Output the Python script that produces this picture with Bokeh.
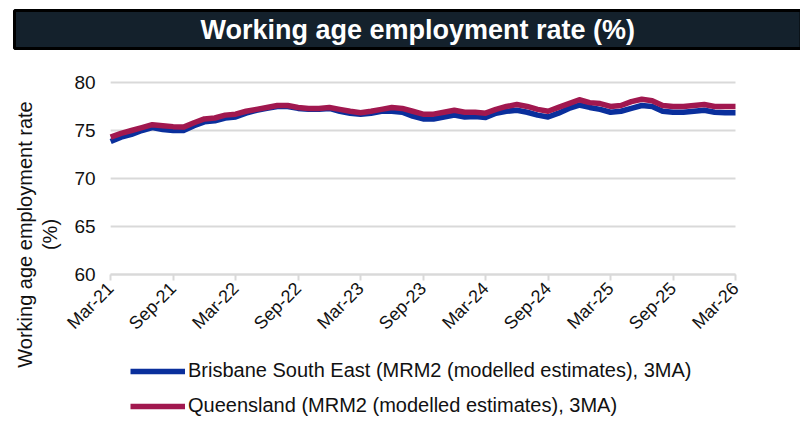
import math
from bokeh.plotting import figure
from bokeh.models import Legend, LegendItem, FixedTicker, Range1d, LinearAxis
from bokeh.embed import file_html
from bokeh.resources import INLINE

title_text = "Working age employment rate (%)"
y_label_outer = "Working age employment rate"
y_label_inner = "(%)"
tick_labels = ["Mar-21", "Sep-21", "Mar-22", "Sep-22", "Mar-23", "Sep-23",
               "Mar-24", "Sep-24", "Mar-25", "Sep-25", "Mar-26"]
series_names = ["Brisbane South East (MRM2 (modelled estimates), 3MA)",
                "Queensland (MRM2 (modelled estimates), 3MA)"]
# monthly values, Mar-21 .. Mar-26
bse = [73.85, 74.3, 74.6, 75.0, 75.3, 75.1, 75.0, 75.0, 75.5, 75.9,
       76.0, 76.3, 76.4, 76.8, 77.1, 77.3, 77.5, 77.5, 77.3, 77.2,
       77.2, 77.3, 77.0, 76.8, 76.7, 76.8, 77.0, 77.0, 76.9, 76.5,
       76.2, 76.2, 76.4, 76.6, 76.4, 76.45, 76.35, 76.8, 77.0, 77.1,
       76.9, 76.6, 76.4, 76.8, 77.3, 77.65, 77.4, 77.2, 76.9, 77.0,
       77.3, 77.6, 77.5, 77.0, 76.9, 76.9, 77.0, 77.1, 76.9, 76.85,
       76.85]
qld = [74.3, 74.7, 75.0, 75.3, 75.6, 75.5, 75.4, 75.35, 75.8, 76.2,
       76.3, 76.6, 76.7, 77.0, 77.2, 77.4, 77.6, 77.6, 77.4, 77.3,
       77.3, 77.4, 77.2, 77.0, 76.85, 77.0, 77.2, 77.4, 77.3, 77.0,
       76.7, 76.7, 76.9, 77.1, 76.9, 76.9, 76.8, 77.2, 77.5, 77.7,
       77.5, 77.2, 77.0, 77.4, 77.8, 78.2, 77.9, 77.8, 77.5, 77.6,
       78.0, 78.25, 78.1, 77.6, 77.5, 77.5, 77.6, 77.7, 77.5, 77.5,
       77.5]
months = list(range(len(bse)))
y_ticks = [60, 65, 70, 75, 80]
# visible view: frame also holds the axis labels and the legend
x_view = (-9.81, 60.96)
y_view = (45.0, 83.33)

FONT = "Liberation Sans"
BLUE = "#0a2f9c"
MAROON = "#a1184f"
GRID = "#d9d9d9"
TXT = "#111111"

p = figure(width=800, height=418, title=title_text,
           min_border_left=8, min_border_right=55, min_border_top=50,
           min_border_bottom=0,
           x_range=Range1d(*x_view), y_range=Range1d(*y_view),
           toolbar_location=None, output_backend="svg")
p.title.align = "left"
p.title.offset = 6
p.title.vertical_align = "top"
p.title.standoff = 0
p.title.text_color = "white"
p.title.text_font = FONT
p.title.text_font_size = "27px"
p.title.text_font_style = "bold"
p.title.background_fill_color = "#14212c"
p.title.border_line_color = "black"
p.title.border_line_width = 3
p.title.padding = dict(left=186, right=166, top=4, bottom=4)
p.outline_line_color = None
p.xgrid.visible = False
p.ygrid.visible = False

# horizontal gridlines across the data span only
p.segment(x0=[months[0]] * len(y_ticks), y0=y_ticks,
          x1=[months[-1]] * len(y_ticks), y1=y_ticks,
          line_color=GRID, line_width=2)

p.xaxis.fixed_location = y_ticks[0]
p.xaxis.bounds = (months[0], months[-1])
p.xaxis.ticker = FixedTicker(ticks=list(range(0, 61, 6)))
p.xaxis.major_label_overrides = {i * 6: t for i, t in enumerate(tick_labels)}
p.xaxis.major_label_orientation = math.pi / 4
p.xaxis.axis_line_color = GRID
p.xaxis.axis_line_width = 2
p.xaxis.major_tick_line_color = GRID
p.xaxis.major_tick_line_width = 2
p.xaxis.major_tick_out = 6
p.xaxis.major_tick_in = 0
p.xaxis.minor_tick_line_color = None
p.xaxis.major_label_text_font = FONT
p.xaxis.major_label_text_font_size = "18px"
p.xaxis.major_label_text_color = TXT
p.xaxis.major_label_standoff = 5

p.yaxis.fixed_location = months[0]
p.yaxis.ticker = FixedTicker(ticks=y_ticks)
p.yaxis.axis_line_color = None
p.yaxis.major_tick_line_color = None
p.yaxis.minor_tick_line_color = None
p.yaxis.major_tick_out = 0
p.yaxis.major_label_text_font = FONT
p.yaxis.major_label_text_font_size = "19px"
p.yaxis.major_label_text_color = TXT
p.yaxis.major_label_standoff = 15
p.yaxis.axis_label = y_label_inner
p.yaxis.axis_label_text_font = FONT
p.yaxis.axis_label_text_font_size = "20px"
p.yaxis.axis_label_text_font_style = "normal"
p.yaxis.axis_label_text_color = TXT
p.yaxis.axis_label_standoff = 10

outer = LinearAxis(fixed_location=months[0], ticker=FixedTicker(ticks=[]),
                   axis_label=y_label_outer,
                   axis_line_color=None, major_tick_line_color=None,
                   minor_tick_line_color=None, major_tick_out=0,
                   major_label_standoff=0,
                   major_label_text_font_size="0px",
                   axis_label_text_font=FONT, axis_label_text_font_size="20px",
                   axis_label_text_font_style="normal",
                   axis_label_text_color=TXT, axis_label_standoff=75)
p.add_layout(outer, "left")

r1 = p.line(months, bse, line_color=BLUE, line_width=5.5, line_join="round")
r2 = p.line(months, qld, line_color=MAROON, line_width=5.5, line_join="round")

legend = Legend(items=[LegendItem(label=series_names[0], renderers=[r1]),
                       LegendItem(label=series_names[1], renderers=[r2])],
                location=(122, 1), orientation="vertical",
                border_line_color=None, background_fill_alpha=0,
                label_text_font=FONT, label_text_font_size="20px",
                label_text_color=TXT, glyph_width=55, glyph_height=22,
                label_height=22, label_standoff=3, spacing=12, padding=0)
p.add_layout(legend)

open("out.html", "w").write(file_html(p, INLINE))
